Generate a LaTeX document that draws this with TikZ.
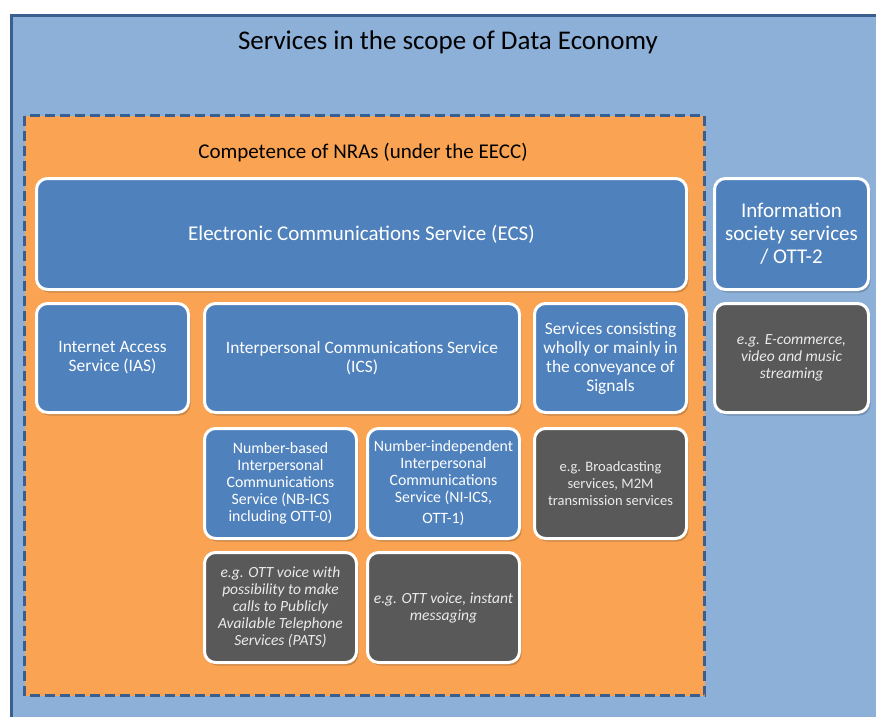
\documentclass[tikz,border=0pt]{standalone}
\usepackage{fontspec}
\setmainfont{Carlito}
\usetikzlibrary{shadows}

\definecolor{scopefill}{RGB}{141,176,216}
\definecolor{scopeline}{RGB}{58,95,142}
\definecolor{nrafill}{RGB}{250,164,83}
\definecolor{servblue}{RGB}{79,129,189}
\definecolor{examplegrey}{RGB}{89,89,89}

\begin{document}
\begin{tikzpicture}[x=1pt,y=-1pt]
\tikzstyle{svcbox}=[draw=white,line width=3pt,rounded corners=11pt,
  text=white,align=center,inner sep=1pt,
  drop shadow={shadow xshift=2pt,shadow yshift=-3pt,fill=black,opacity=0.18}];
\tikzstyle{bluebox}=[svcbox,fill=servblue];
\tikzstyle{greybox}=[svcbox,fill=examplegrey,text=white!92!black,font=\fontsize{15.5}{17}\selectfont\itshape];
\useasboundingbox (0,0) rectangle (876,716);
\fill[white] (0,0) rectangle (876,716);
% outer and inner frames
\draw[scopeline,fill=scopefill,line width=3pt] (11.5,15.5) rectangle (885,725);
\draw[scopeline,fill=nrafill,line width=2.5pt,dash pattern=on 10pt off 5pt] (24.5,115.5) rectangle (704.5,695.5);
\node[font=\fontsize{27}{30}\selectfont] (scope) at (448,42) {Services in the scope of Data Economy};
\node[font=\fontsize{21}{24}\selectfont] (nra) at (363,153) {Competence of NRAs (under the EECC)};

% first row
\node[bluebox,minimum width=650pt,minimum height=111pt,font=\fontsize{21}{24}\selectfont] (ecs) at (361.5,234) {Electronic Communications Service (ECS)};
\node[bluebox,minimum width=154pt,minimum height=111pt,font=\fontsize{21}{23}\selectfont] (iss) at (791.5,234) {Information\\society services\\/ OTT-2};

% second row
\node[bluebox,minimum width=152pt,minimum height=109pt,font=\fontsize{17.4}{19}\selectfont] (ias) at (112.5,358) {Internet Access\\Service (IAS)};
\node[bluebox,minimum width=315pt,minimum height=109pt,font=\fontsize{17.4}{19}\selectfont] (ics) at (362,358) {Interpersonal Communications Service\\(ICS)};
\node[bluebox,minimum width=152pt,minimum height=109pt,font=\fontsize{17.4}{19}\selectfont] (signals) at (610.5,358) {Services consisting\\wholly or mainly in\\the conveyance of\\Signals};
\node[greybox,minimum width=154pt,minimum height=109pt] (ecom) at (791.5,358) {e.g. E-commerce,\\video and music\\streaming};

% third row
\node[bluebox,minimum width=152pt,minimum height=110pt,font=\fontsize{15.8}{17}\selectfont] (nbics) at (280.5,483.5) {Number-based\\Interpersonal\\Communications\\Service (NB-ICS\\including OTT-0)};
\node[bluebox,minimum width=152pt,minimum height=110pt,font=\fontsize{15.8}{17}\selectfont] (niics) at (443.5,483.5) {Number-independent\\Interpersonal\\Communications\\Service (NI-ICS,\\[4pt]OTT-1)};
\node[greybox,minimum width=152pt,minimum height=110pt,font=\fontsize{14.5}{17}\selectfont\upshape] (bcast) at (610.5,483.5) {e.g. Broadcasting\\services, M2M\\transmission services};

% fourth row
\node[greybox,minimum width=152pt,minimum height=110pt] (pats) at (280.5,607.5) {e.g. OTT voice with\\possibility to make\\calls to Publicly\\Available Telephone\\Services (PATS)};
\node[greybox,minimum width=152pt,minimum height=110pt] (im) at (443.5,607.5) {e.g. OTT voice, instant\\messaging};
\end{tikzpicture}
\end{document}
